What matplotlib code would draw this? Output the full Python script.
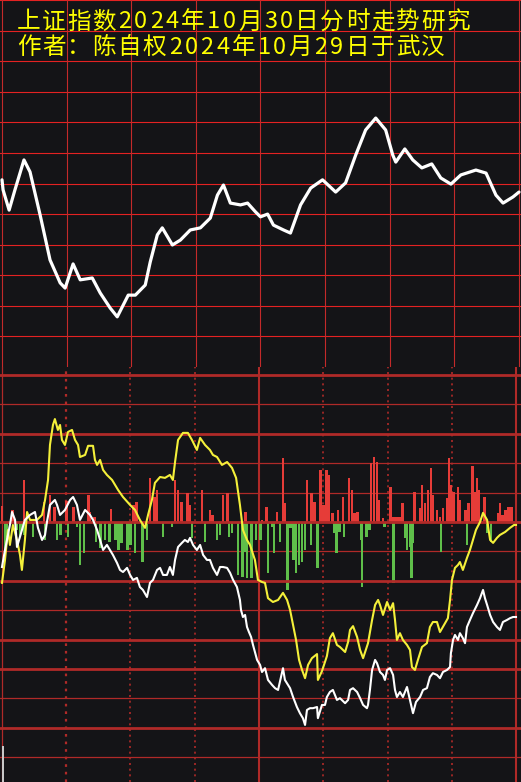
import matplotlib.pyplot as plt

plt.rcParams['font.family'] = ['Noto Sans CJK SC', 'DejaVu Sans']

title_lines = ['上证指数2024年10月30日分时走势研究', '作者：陈自权2024年10月29日于武汉']

# upper panel: smoothed trend (minutes 0-240, grid units 0-12)
trend_t = [0, 0.5, 3.3, 6.0, 10.2, 13.0, 17.7, 22.3, 27.0, 29.3, 33.0, 36.3, 41.9, 45.6,
           50.2, 53.5, 58.6, 61.9, 66.5, 68.8, 72.1, 74.4, 79.1, 82.8, 87.4, 92.1, 96.7,
           100.0, 102.8, 106.0, 110.7, 114.0, 117.7, 120.0, 123.3, 126.0, 130.7, 133.9,
           138.6, 143.3, 148.8, 154.9, 159.5, 164.2, 168.8, 173.5, 178.1, 181.4, 182.8,
           187.0, 190.7, 194.9, 199.5, 203.7, 208.4, 213.0, 220.0, 224.7, 229.3, 232.6,
           237.2, 240.0]
trend_v = [6.12, 5.79, 5.13, 5.79, 6.77, 6.38, 4.97, 3.50, 2.75, 2.58, 3.37, 2.85, 2.91, 2.42,
           1.93, 1.64, 2.35, 2.35, 2.68, 3.43, 4.32, 4.55, 3.99, 4.15, 4.48, 4.55, 4.87,
           5.62, 5.95, 5.36, 5.30, 5.36, 5.07, 4.91, 5.00, 4.64, 4.48, 4.38,
           5.30, 5.85, 6.12, 5.72, 6.02, 6.93, 7.75, 8.14, 7.75, 6.93, 6.70,
           7.13, 6.77, 6.51, 6.64, 6.18, 5.98, 6.28, 6.44, 6.34, 5.62, 5.36,
           5.56, 5.72]

# lower panel: yellow and white minute lines (grid units, 0 = zero line)
yellow_t = [0, 1.4, 2.8, 3.7, 5.1, 7.0, 8.4, 9.3, 10.7, 11.7, 13.1, 16.3, 18.7, 20.1, 21.5,
            22.4, 23.8, 24.7, 26.1, 27.1, 28.0, 29.4, 30.8, 32.7, 34.1, 35.5, 36.4, 38.8,
            40.2, 42.5, 43.4, 44.4, 45.8, 47.2, 49.0, 51.4, 54.2, 56.5, 59.8, 62.1, 64.4,
            66.8, 68.2, 70.0, 71.4, 73.8, 76.1, 78.4, 79.8, 80.8, 82.2, 84.5, 86.8, 88.7,
            91.0, 92.5, 94.8, 97.1, 98.5, 100.4, 102.7, 105.1, 107.4, 109.3, 111.1, 112.5,
            114.4, 115.8, 118.1, 119.5, 121.4, 122.8, 124.2, 126.5, 128.9, 131.2, 133.1,
            134.5, 135.9, 137.3, 138.7, 140.1, 141.5, 142.9, 144.7, 147.1, 147.5, 149.4,
            151.7, 153.1, 154.5, 156.4, 157.8, 160.2, 161.6, 162.5, 163.9, 165.8, 167.2,
            168.6, 170.9, 172.8, 174.2, 175.6, 176.5, 177.9, 179.8, 181.2, 182.6, 183.5,
            184.4, 185.8, 187.2, 189.1, 190.5, 191.4, 192.8, 194.2, 196.1, 198.4, 199.8,
            201.2, 203.1, 204.5, 206.4, 208.2, 209.2, 210.1, 211.5, 212.9, 213.8, 215.2,
            217.1, 218.5, 219.9, 221.3, 223.2, 224.6, 226.5, 227.9, 229.3, 231.1, 232.5,
            234.9, 237.2, 239.1, 240.0]
yellow_v = [-2.07, -1.29, -0.27, -0.78, -0.10, -0.61, -1.12, -1.63, -0.61, 0.34, 0.07, 0.07,
            0.24, 0.75, 1.43, 2.62, 3.30, 3.50, 3.13, 3.30, 2.79, 2.62, 3.06, 3.13, 2.79,
            2.62, 2.21, 2.28, 2.59, 2.59, 2.11, 1.94, 2.11, 1.77, 1.60, 1.43, 1.09, 0.85,
            0.58, 0.41, 0.07, -0.20, 0.24, 0.75, 1.33, 1.53, 1.50, 1.60, 1.43, 2.04, 2.79,
            3.03, 3.03, 2.79, 2.45, 2.86, 2.62, 2.45, 2.28, 2.21, 1.94, 2.04, 1.84, 1.50,
            0.58, -0.27, -0.61, -0.78, -1.29, -1.97, -2.04, -2.07, -2.59, -2.72, -2.65,
            -2.41, -2.65, -2.99, -3.50, -4.01, -4.69, -5.03, -5.31, -4.86, -4.63, -4.49,
            -5.37, -5.07, -4.56, -3.95, -3.78, -4.18, -4.25, -4.42, -4.08, -3.67, -3.54,
            -3.91, -4.35, -4.63, -4.12, -3.33, -2.82, -2.65, -2.82, -3.16, -2.72, -2.99,
            -2.76, -3.33, -4.01, -3.78, -4.01, -4.18, -4.35, -4.93, -5.03, -4.69, -4.25,
            -4.12, -3.57, -3.40, -3.40, -3.74, -3.50, -3.27, -2.65, -1.97, -1.56, -1.46,
            -1.36, -1.63, -1.22, -0.95, -0.61, -0.27, 0.00, 0.31, 0.07, -0.61, -0.71,
            -0.54, -0.44, -0.34, -0.20, -0.10, -0.10]

white_t = [0, 1.4, 3.7, 4.7, 6.1, 7.0, 9.3, 10.7, 13.1, 15.4, 16.8, 18.7, 20.1, 21.0, 22.4,
           24.7, 25.7, 27.1, 29.4, 31.8, 33.2, 35.0, 36.4, 38.8, 41.1, 42.5, 44.4, 45.8,
           47.2, 49.0, 50.4, 51.8, 53.7, 55.1, 56.5, 58.4, 59.8, 61.2, 63.0, 64.4, 65.8,
           67.7, 69.1, 70.5, 72.4, 73.8, 75.2, 77.0, 78.4, 79.8, 80.8, 82.2, 84.0, 85.4,
           86.8, 87.8, 89.2, 91.0, 92.5, 93.9, 95.7, 97.1, 98.5, 100.4, 101.8, 103.2,
           105.1, 106.5, 107.9, 109.7, 111.1, 111.6, 112.5, 113.5, 114.4, 115.3, 116.3,
           117.2, 118.1, 119.1, 120.5, 121.4, 122.8, 124.2, 126.1, 127.5, 128.9, 131.2,
           132.1, 134.5, 135.9, 137.7, 139.1, 140.5, 141.5, 142.4, 143.8, 145.2, 147.1,
           147.5, 149.4, 150.8, 151.7, 153.1, 154.5, 156.4, 157.8, 160.2, 161.6, 162.5,
           163.9, 165.8, 167.2, 168.6, 170.4, 170.9, 171.8, 172.8, 174.2, 175.1, 176.5,
           177.9, 178.8, 179.8, 181.2, 182.6, 183.5, 184.4, 185.8, 187.2, 189.1, 190.5,
           191.4, 191.9, 193.3, 195.2, 196.6, 198.4, 199.8, 201.2, 203.1, 204.5, 205.9,
           207.8, 209.2, 209.6, 210.6, 211.5, 212.9, 213.8, 215.2, 216.2, 217.1, 218.5,
           219.9, 221.8, 223.2, 224.6, 225.5, 226.5, 227.9, 229.3, 231.1, 232.5, 233.9,
           235.8, 237.2, 238.6, 240.0]
white_v = [-1.53, -0.95, -0.10, 0.34, 0.07, -0.85, -0.27, 0.07, 0.24, 0.34, -0.20, -0.61,
           -0.44, 0.00, 0.58, 0.75, 0.58, 0.24, 0.41, 0.75, 0.85, 0.58, 0.07, 0.41, 0.24,
           0.07, -0.27, -0.61, -0.95, -0.78, -0.95, -1.12, -1.39, -1.63, -1.70, -1.56,
           -1.80, -1.97, -1.90, -2.21, -2.31, -2.55, -2.07, -1.97, -1.63, -1.56, -1.80,
           -1.80, -1.53, -1.80, -1.29, -0.85, -0.71, -0.61, -0.68, -0.54, -0.78, -0.95,
           -0.78, -1.12, -1.29, -1.29, -1.56, -1.80, -1.53, -1.53, -1.56, -1.73, -1.97,
           -2.21, -2.65, -2.99, -3.23, -3.16, -3.57, -3.74, -3.91, -4.18, -4.42, -4.69,
           -4.86, -5.10, -4.97, -5.37, -5.54, -5.65, -5.71, -4.97, -5.37, -5.65, -5.95,
           -6.29, -6.50, -6.67, -6.90, -6.39, -6.33, -6.33, -6.29, -6.67, -6.22, -6.22,
           -5.95, -5.78, -5.71, -6.05, -5.99, -6.16, -6.05, -5.71, -5.65, -5.78, -5.99,
           -6.22, -6.33, -6.22, -5.71, -5.03, -4.69, -4.80, -5.10, -5.20, -5.37, -5.03,
           -4.97, -5.20, -5.71, -5.95, -5.78, -5.95, -5.61, -6.05, -6.33, -6.50, -6.12,
           -5.95, -5.71, -5.65, -5.27, -5.14, -5.20, -5.31, -5.10, -5.03, -4.93, -4.46,
           -4.01, -3.84, -4.01, -3.78, -3.95, -4.12, -3.57, -3.33, -3.10, -2.82, -2.59,
           -2.31, -2.59, -2.82, -3.16, -3.40, -3.57, -3.67, -3.40, -3.33, -3.27, -3.23,
           -3.23]

# lower panel: up (red) and down (green) bars
red_t = [0, 5.1, 10.3, 19.6, 22.4, 24.7, 30.3, 33.2, 40.2, 41.1, 43.4, 50.9, 61.2, 63.0,
         69.1, 71.4, 72.4, 80.8, 82.2, 84.0, 86.8, 87.8, 93.4, 97.1, 98.1, 103.2, 105.1,
         113.5, 121.4, 123.3, 128.4, 131.2, 131.7, 142.4, 144.7, 146.1, 148.9, 150.3,
         151.7, 152.7, 154.5, 156.9, 159.2, 162.0, 163.4, 164.4, 165.8, 172.3, 173.7,
         175.1, 175.6, 177.9, 181.2, 182.6, 184.0, 185.4, 186.8, 192.8, 195.2, 196.1,
         197.5, 198.9, 200.3, 201.2, 203.1, 204.5, 205.9, 208.2, 208.7, 209.6, 211.0,
         212.9, 213.8, 216.6, 218.0, 219.5, 220.9, 221.8, 222.7, 225.1, 231.6, 232.5,
         233.9, 235.3, 236.7, 238.1]
red_h = [0.54, 0.41, 1.43, 0.68, 0.92, 0.51, 0.71, 0.51, 0.92, 0.34, 0.17, 0.44, 0.58, 0.68,
         1.50, 0.85, 1.09, 1.43, 1.09, 0.68, 0.99, 0.58, 1.09, 0.41, 0.24, 0.92, 0.99,
         0.34, 0.07, 0.51, 0.34, 2.18, 0.65, 1.43, 0.99, 0.68, 1.77, 0.58,
         1.77, 1.60, 0.31, 0.41, 0.85, 1.50, 1.09, 0.31, 0.34, 2.01, 2.21,
         2.04, 0.75, 0.14, 1.19, 0.17, 0.17, 0.17, 0.65, 1.02, 0.48, 1.26,
         0.65, 1.09, 1.84, 0.92, 0.41, 0.17, 0.48, 0.82, 2.18, 1.26, 1.02,
         1.19, 0.75, 0.41, 0.65, 1.90, 1.02, 1.50, 1.09, 0.85, 0.31, 0.65,
         0.24, 0.41, 0.51, 0.51]

green_t = [1.4, 2.3, 7.0, 8.4, 9.3, 10.3, 14.5, 20.1, 25.7, 27.5, 30.8, 35.0, 36.4, 38.3,
           43.9, 45.8, 48.1, 50.4, 52.8, 54.2, 56.0, 58.4, 59.8, 62.1, 65.8, 67.7, 75.2,
           79.4, 88.7, 94.8, 100.4, 101.8, 106.0, 107.4, 110.2, 112.1, 113.5, 114.4, 116.7,
           118.6, 120.5, 124.2, 126.1, 127.0, 129.8, 133.1, 134.5, 136.3, 137.3, 138.7,
           140.1, 141.5, 144.3, 147.5, 155.0, 156.0, 157.4, 159.7, 167.6, 168.1, 170.0,
           171.8, 178.8, 183.0, 188.2, 189.1, 190.5, 191.0, 191.9, 205.0, 217.1, 226.5,
           228.3]
green_h = [-0.95, -0.51, -0.27, -0.51, -0.27, -0.44, -0.51, -0.61, -0.61, -0.44, -0.51, -0.17,
           -1.46, -1.05, -0.68, -0.88, -0.61, -0.68, -0.61, -0.95, -0.71, -0.95, -0.78,
           -1.05, -1.36, -0.61, -0.51, -0.17, -0.54, -0.68, -0.61, -0.44, -0.51, -0.37,
           -1.80, -1.87, -1.02, -1.90, -1.90, -0.61, -0.61, -1.73, -0.17, -1.05, -0.68,
           -2.31, -0.20, -1.29, -1.73, -1.46, -1.36, -0.95, -0.78, -1.56, -0.37, -1.05,
           -0.34, -0.51, -0.61, -2.21, -0.51, -0.27, -0.17, -2.07, -0.54, -0.95, -0.85,
           -1.90, -0.71, -1.02, -0.78, -0.37, -0.68]

thick_levels = [5, 3, 0, -2, -4, -5, -7]
thin_levels = [4, 2, 1, -1, -3, -6, -8]
dotted_t = [30, 60, 90, 150, 180, 210]

W, H = 521, 782
fig = plt.figure(figsize=(W / 100, H / 100), dpi=100)
fig.patch.set_facecolor('#141417')

# ---- upper panel
ax1 = fig.add_axes([0, 415 / H, 1, 367 / H])
ax1.set_facecolor('#221c1a')
ax1.set_xlim(-0.93, 240.93)
ax1.set_ylim(0, 12)
for lv in range(1, 13):
    ax1.axhline(lv, color='#e42222', lw=0.8, zorder=1)
for t in range(0, 241, 30):
    ax1.axvline(t, color='#c42a2a', lw=0.8, zorder=1)
ax1.plot(trend_t, trend_v, color='white', lw=2.3, solid_joinstyle='round',
         solid_capstyle='round', zorder=3)
ax1.axis('off')

# ---- lower panel
ax2 = fig.add_axes([0, 0, 1, 415 / H])
ax2.set_facecolor('#141417')
ax2.set_xlim(-0.93, 242.33)
ax2.set_ylim(-8.84, 5.27)
for lv in thick_levels:
    ax2.axhline(lv, color='#b02a28', lw=2.0, zorder=4)
for lv in thin_levels:
    ax2.axhline(lv, color='#b02a28', lw=0.9, zorder=1)
for t in dotted_t:
    ax2.axvline(t, color='#b02a28', lw=1.6 if t == 30 else 1.2,
                linestyle=(0, (1.2, 2.2)), zorder=1)
ax2.axvline(0, color='#b02a28', lw=0.9, zorder=1)
ax2.axvline(120, color='#b02a28', lw=1.5, zorder=1)
ax2.axvline(240, color='#b02a28', lw=1.5, zorder=1)

ax2.bar(red_t, red_h, width=1.35, color='#e63c38', linewidth=0, zorder=2)
ax2.bar(green_t, green_h, width=1.35, color='#5fbf4a', linewidth=0, zorder=2)
ax2.bar([0.6], [1.22], bottom=-8.84, width=1.0, color='#c8c8c8', linewidth=0, zorder=2)

ax2.plot(yellow_t, yellow_v, color='#f4f03a', lw=1.5, zorder=5)
ax2.plot(white_t, white_v, color='white', lw=1.5, zorder=5)
ax2.axis('off')

# ---- title, character by character
for line, ypix in zip(title_lines, [22, 47.5]):
    x = 16
    for ch in line:
        step = 15.9 if ch.isascii() else 25.2
        fig.text((x + step / 2) / W, 1 - ypix / H, ch, color='#ffff00', fontsize=17,
                 ha='center', va='center')
        x += step

fig.savefig('out.png', dpi=100, facecolor=fig.get_facecolor())
